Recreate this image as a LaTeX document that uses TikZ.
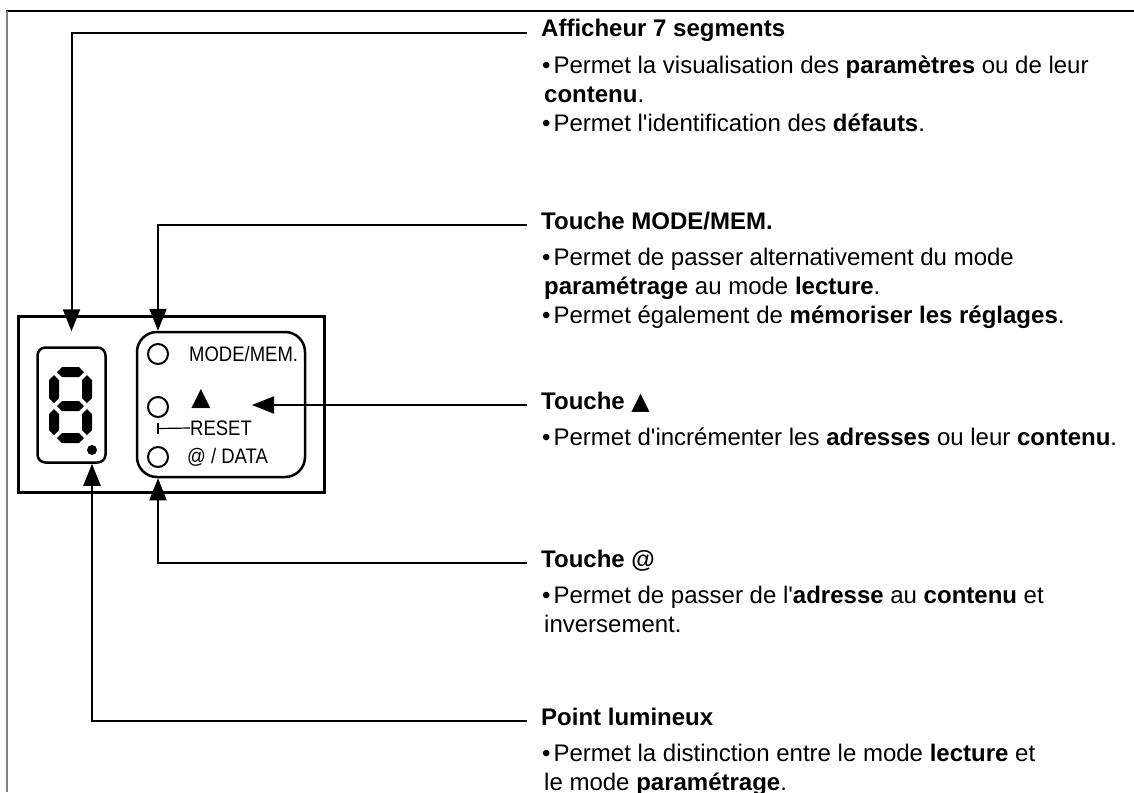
\documentclass[tikz,border=0pt]{standalone}
\usepackage{fontspec}
\setmainfont{Liberation Sans}
\newfontfamily\etroite[FakeStretch=0.88]{Liberation Sans}
\newfontfamily\symboles{DejaVu Sans}
\usetikzlibrary{arrows.meta}
\usetikzlibrary{positioning}

% segments de l'afficheur
\newcommand{\segh}[3]{\fill (#1,#3) -- (#1+5,#3-5) -- (#2-5,#3-5) -- (#2,#3) -- (#2-5,#3+5) -- (#1+5,#3+5) -- cycle;}
\newcommand{\segv}[3]{\fill (#1,#2) -- (#1+5,#2+5) -- (#1+5,#3-5) -- (#1,#3) -- (#1-5,#3-5) -- (#1-5,#2+5) -- cycle;}
\newcommand{\puce}{\textbullet\hspace{3pt}}
\newcommand{\suite}{\hspace*{2pt}}
\newcommand{\apos}{\textquotesingle}

\tikzset{
  titre/.style={anchor=base west, inner xsep=14pt, inner ysep=0pt, text height=13pt, text depth=5pt,
    font=\fontsize{24}{29}\selectfont\bfseries},
  corps/.style={inner sep=0pt, align=left, font=\fontsize{24}{29}\selectfont},
  fleche/.style={line width=2pt, -{Triangle[length=22pt,width=17pt]}},
  led/.style={draw, circle, line width=2pt, minimum size=20pt, inner sep=0pt},
  touche/.style={etroite, inner sep=0pt},
  etroite/.style={font=\etroite\fontsize{21}{21}\selectfont},
}

\begin{document}
\begin{tikzpicture}[x=1pt, y=-1pt]
  \useasboundingbox (0,0) rectangle (1134,792);
  % cadre
  \draw[line width=2pt] (6,11) -- (1134,11);
  \draw[gray, line width=2pt] (7,11) -- (7,792);

  % boitier
  \node[draw, line width=3pt, minimum width=306pt, minimum height=176pt] (boitier) at (171,404) {};
  \node[draw, line width=2.5pt, rounded corners=8pt, minimum width=68pt, minimum height=115pt] (digit) at (71.5,405) {};
  \node[draw, line width=2.5pt, rounded corners=20pt, minimum width=168pt, minimum height=145pt] (touches) at (221,404.5) {};

  % le 8
  \segh{57}{84}{372}
  \segh{57}{84}{406}
  \segh{57}{84}{438}
  \segv{54}{375}{403}
  \segv{54}{409}{435}
  \segv{87}{375}{403}
  \segv{87}{409}{435}
  \node[circle, fill, minimum size=10pt, inner sep=0pt] (point) at (92,450) {};

  % touches
  \node[led] (led1) at (158,354) {};
  \node[led] (led2) at (158,407) {};
  \node[led] (led3) at (158,457) {};
  \node[touche, anchor=west] (mode) at (189,354) {MODE/MEM.};
  \node[inner sep=0pt, font=\symboles\fontsize{25}{25}\selectfont] (haut) at (201,399) {▲};
  \node[touche, anchor=west] (reset) at (190,428) {RESET};
  \node[touche, anchor=west] (data) at (187,457) {@ / DATA};
  \draw[line width=1.2pt] (158,423) -- (158,434);
  \draw[line width=1.2pt] (158,428.5) -- (reset.west);
  \coordinate (cible) at (252,405);

  % textes
  \node[titre] (tAff) at (527,37) {Afficheur 7 segments};
  \node[corps, below right=18.5pt and 15pt of tAff.base west] (cAff)
    {\puce Permet la visualisation des \textbf{paramètres} ou de leur\\
     \suite\textbf{contenu}.\\
     \puce Permet l\apos identification des \textbf{défauts}.};

  \node[titre] (tMode) at (527,229) {Touche MODE/MEM.};
  \node[corps, below right=19pt and 15pt of tMode.base west] (cMode)
    {\puce Permet de passer alternativement du mode\\
     \suite\textbf{paramétrage} au mode \textbf{lecture}.\\
     \puce Permet également de \textbf{mémoriser les réglages}.};

  \node[titre] (tHaut) at (527,409) {Touche {\symboles\mdseries ▲}};
  \node[corps, below right=19pt and 15pt of tHaut.base west] (cHaut)
    {\puce Permet d\apos incrémenter les \textbf{adresses} ou leur \textbf{contenu}.};

  \node[titre] (tArob) at (527,567) {Touche @};
  \node[corps, below right=19pt and 15pt of tArob.base west] (cArob)
    {\puce Permet de passer de l\apos\textbf{adresse} au \textbf{contenu} et\\
     \suite inversement.};

  \node[titre] (tPoint) at (527,725) {Point lumineux};
  \node[corps, below right=19pt and 15pt of tPoint.base west] (cPoint)
    {\puce Permet la distinction entre le mode \textbf{lecture} et\\
     \suite le mode \textbf{paramétrage}.};

  % fleches
  \draw[fleche, shorten >=15pt] (tAff.west) -| (digit.north);
  \draw[fleche] (tMode.west) -| (led1 |- touches.north);
  \draw[fleche] (tHaut.west) -- (cible);
  \draw[fleche] (tArob.west) -| (led3 |- touches.south);
  \draw[fleche] (tPoint.west) -| (point |- digit.south);
\end{tikzpicture}
\end{document}
